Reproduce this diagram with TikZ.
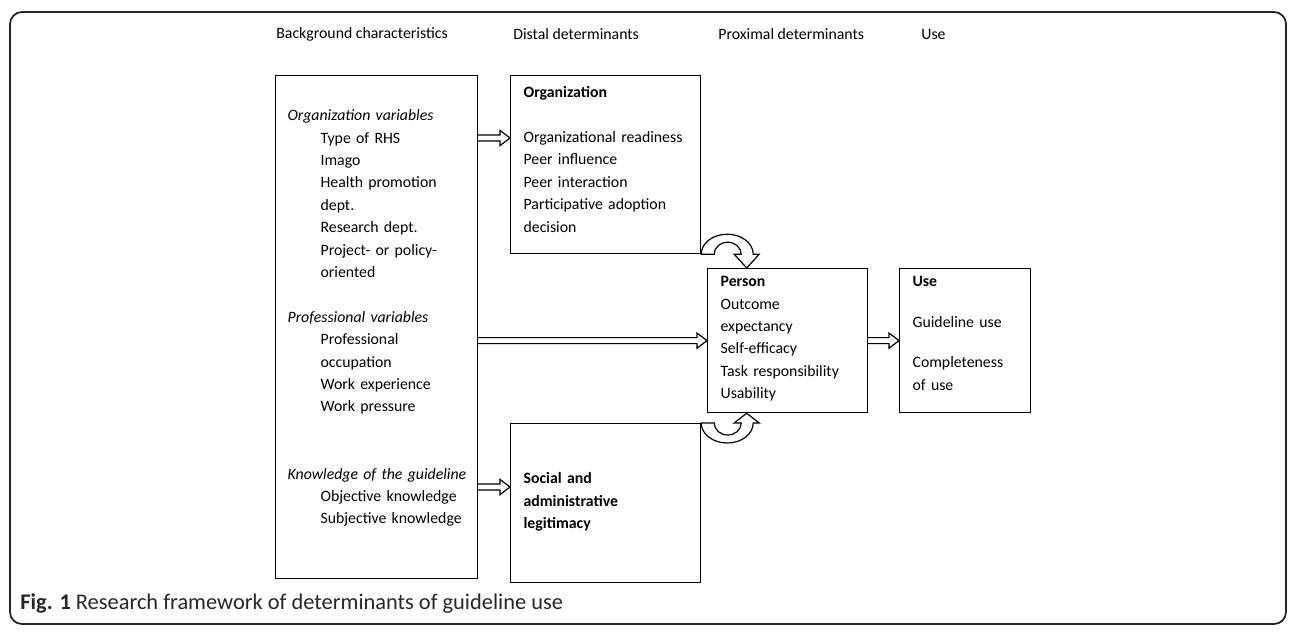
\documentclass[tikz,border=0pt]{standalone}
\usepackage{fontspec}
\setmainfont{Carlito}
\usetikzlibrary{calc,positioning}
\newcommand{\ind}{\hspace*{16.5pt}}

\begin{document}
\begin{tikzpicture}[
    x=0.5pt, y=-0.5pt,
    font=\fontsize{7.9pt}{11.2pt}\selectfont,
    box/.style={draw, line width=0.6pt, rectangle, anchor=north west, align=left, inner xsep=6.5pt, inner ysep=0pt},
    head/.style={anchor=west, inner sep=0},
    hollow/.style={draw, line width=0.6pt, line join=miter, fill=white,
        to path={let \p1=(\tikztostart), \p2=(\tikztotarget) in
            (\x1,\y1+1.5pt) -- (\x2-5pt,\y1+1.5pt) -- (\x2-5pt,\y1+3.8pt) -- (\x2,\y1)
            -- (\x2-5pt,\y1-3.8pt) -- (\x2-5pt,\y1-1.5pt) -- (\x1,\y1-1.5pt)}},
    curved/.style={draw, line width=0.6pt, line join=miter, fill=white}
    ]
\useasboundingbox (0,0) rectangle (1296,634);
\path[draw, rounded corners=6pt, line width=0.9pt, black!85] (10,12) rectangle (1286,624);

\node[head] (hbg)   at (276,34) {Background characteristics};
\node[head] (hdist) at (513,34) {Distal determinants};
\node[head] (hprox) at (718,34) {Proximal determinants};
\node[head] (huse)  at (921,34) {Use};

\node[box, inner xsep=6pt, text width=89pt, text height=22.5pt, text depth=229pt] (bgbox) at (275,75) {
 \textit{Organization variables}\\
 \ind Type of RHS\\
 \ind Imago\\
 \ind Health promotion\\
 \ind dept.\\
 \ind Research dept.\\
 \ind Project- or policy-\\
 \ind oriented\\[11.2pt]
 \textit{Professional variables}\\
 \ind Professional\\
 \ind occupation\\
 \ind Work experience\\
 \ind Work pressure\\[22.4pt]
 \mbox{\textit{Knowledge of the guideline}}\\
 \ind Objective knowledge\\
 \ind Subjective knowledge};

\node[box, text width=82pt, text height=11pt, text depth=78pt] (orgbox) at (510,75) {
 \textbf{Organization}\\[11.2pt]
 Organizational readiness\\
 Peer influence\\
 Peer interaction\\
 Participative adoption\\
 decision};

\node[box, text width=82pt, text height=30pt, text depth=49.5pt] (socbox) at (510,423) {
 \textbf{Social and}\\
 \textbf{administrative}\\
 \textbf{legitimacy}};

\node[box, text width=67pt, text height=9pt, text depth=63pt] (perbox) at (707,268) {
 \textbf{Person}\\
 Outcome\\
 expectancy\\
 Self-efficacy\\
 Task responsibility\\
 Usability};

\node[box, text width=52.5pt, text height=9pt, text depth=63pt] (usebox) at (899,268) {
 \textbf{Use}\\[9.3pt]
 Guideline use\\[8.8pt]
 Completeness\\
 of use};

\path[hollow] (bgbox.east |- 0,138) to (orgbox.west |- 0,138);
\path[hollow] (bgbox.east |- perbox.west) to (perbox.west);
\path[hollow] (perbox.east) to (usebox.west);
\path[hollow] (bgbox.east |- 0,487) to (socbox.west |- 0,487);

\path[curved] (orgbox.south east)
    arc[start angle=180, end angle=360, x radius=26, y radius=20]
    -- ++(6,0)
    -- ($(orgbox.south east |- perbox.north)+(45.5,0)$)
    -- ($(orgbox.south east)+(33,0)$)
    -- ($(orgbox.south east)+(40,0)$)
    arc[start angle=360, end angle=180, x radius=13.5, y radius=12]
    -- cycle;
\path[curved] (socbox.north east)
    arc[start angle=180, end angle=0, x radius=26, y radius=20]
    -- ++(6,0)
    -- ($(socbox.north east |- perbox.south)+(45.5,0)$)
    -- ($(socbox.north east)+(33,0)$)
    -- ($(socbox.north east)+(40,0)$)
    arc[start angle=0, end angle=180, x radius=13.5, y radius=12]
    -- cycle;

\node[anchor=base west, inner sep=0, font=\fontsize{11.2pt}{13pt}\selectfont, black!85] (caption) at (20,609)
    {\textbf{Fig. 1} Research framework of determinants of guideline use};
\end{tikzpicture}
\end{document}
